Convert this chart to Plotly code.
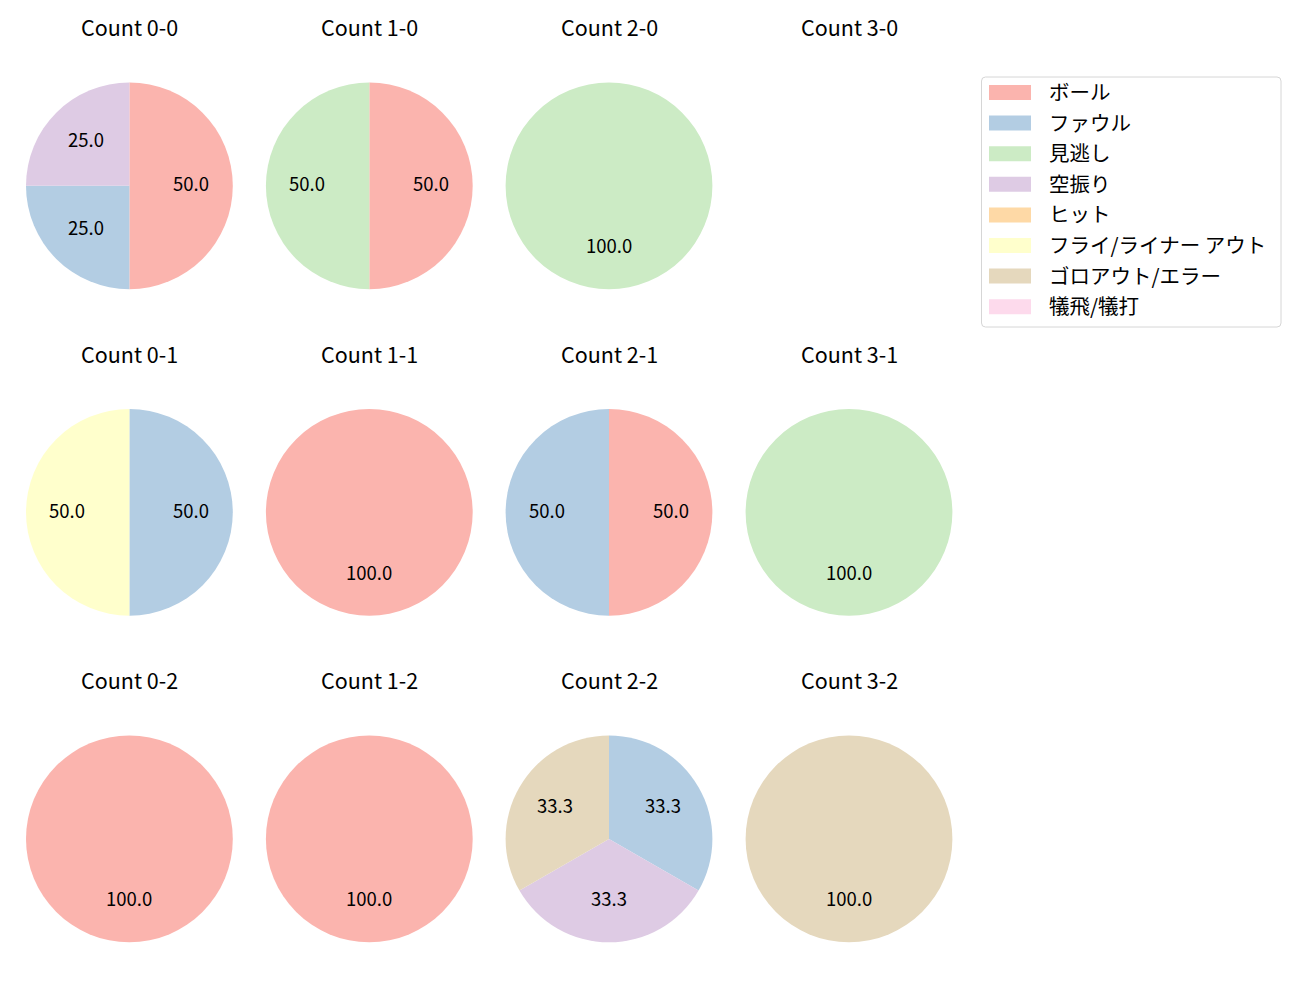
import math
import plotly.graph_objects as go

W, H = 1300, 1000

categories = ["ボール", "ファウル", "見逃し", "空振り", "ヒット",
              "フライ/ライナー アウト", "ゴロアウト/エラー", "犠飛/犠打"]
colors = ["#fbb4ae", "#b3cde3", "#ccebc5", "#decbe4", "#fed9a6",
          "#ffffcc", "#e5d8bd", "#fddaec"]

# counts per category (order as in categories)
count_0_0 = [2, 1, 0, 1, 0, 0, 0, 0]
count_1_0 = [1, 0, 1, 0, 0, 0, 0, 0]
count_2_0 = [0, 0, 1, 0, 0, 0, 0, 0]
count_3_0 = [0, 0, 0, 0, 0, 0, 0, 0]
count_0_1 = [0, 1, 0, 0, 0, 1, 0, 0]
count_1_1 = [1, 0, 0, 0, 0, 0, 0, 0]
count_2_1 = [1, 1, 0, 0, 0, 0, 0, 0]
count_3_1 = [0, 0, 1, 0, 0, 0, 0, 0]
count_0_2 = [1, 0, 0, 0, 0, 0, 0, 0]
count_1_2 = [1, 0, 0, 0, 0, 0, 0, 0]
count_2_2 = [0, 1, 0, 1, 0, 0, 1, 0]
count_3_2 = [0, 0, 0, 0, 0, 0, 1, 0]

panels = [
    ("Count 0-0", count_0_0), ("Count 1-0", count_1_0), ("Count 2-0", count_2_0), ("Count 3-0", count_3_0),
    ("Count 0-1", count_0_1), ("Count 1-1", count_1_1), ("Count 2-1", count_2_1), ("Count 3-1", count_3_1),
    ("Count 0-2", count_0_2), ("Count 1-2", count_1_2), ("Count 2-2", count_2_2), ("Count 3-2", count_3_2),
]

FONT = "Noto Sans CJK JP"
col_cx = [129.4, 369.3, 609.0, 849.0]
row_cy = [185.8, 512.3, 838.9]
R = 103.4


def px(x):
    return x / W


def py(y):
    return 1 - y / H


fig = go.Figure()
annotations = []
shapes = []

for i, (title, vals) in enumerate(panels):
    r, c = divmod(i, 4)
    cx, cy = col_cx[c], row_cy[r]
    annotations.append(dict(x=px(cx), y=py(cy - 159.0), xref="paper", yref="paper",
                            text=title, showarrow=False, xanchor="center", yanchor="middle",
                            font=dict(family=FONT, size=21.5, color="black")))
    total = sum(vals)
    if total == 0:
        continue
    fig.add_trace(go.Pie(
        labels=categories, values=vals, sort=False, direction="clockwise", rotation=0,
        marker=dict(colors=colors, line=dict(width=0)),
        textinfo="none", hoverinfo="label+percent", showlegend=False,
        domain=dict(x=[px(cx - R), px(cx + R)], y=[py(cy + R), py(cy - R)]),
    ))
    cum = 0
    for v in vals:
        if v == 0:
            continue
        mid = 90 - 360 * (cum + v / 2) / total
        cum += v
        tx = cx + 0.6 * R * math.cos(math.radians(mid))
        ty = cy - 0.6 * R * math.sin(math.radians(mid)) - 2.5
        annotations.append(dict(x=px(tx), y=py(ty), xref="paper", yref="paper",
                                text=f"{100 * v / total:.1f}", showarrow=False,
                                xanchor="center", yanchor="middle",
                                font=dict(family=FONT, size=18.5, color="black")))

# legend box (rounded)
lx0, lx1, ly0, ly1, rr = 981.5, 1281.0, 77.0, 327.0, 4.0
path = (f"M {px(lx0 + rr)},{py(ly0)} L {px(lx1 - rr)},{py(ly0)} Q {px(lx1)},{py(ly0)} {px(lx1)},{py(ly0 + rr)} "
        f"L {px(lx1)},{py(ly1 - rr)} Q {px(lx1)},{py(ly1)} {px(lx1 - rr)},{py(ly1)} "
        f"L {px(lx0 + rr)},{py(ly1)} Q {px(lx0)},{py(ly1)} {px(lx0)},{py(ly1 - rr)} "
        f"L {px(lx0)},{py(ly0 + rr)} Q {px(lx0)},{py(ly0)} {px(lx0 + rr)},{py(ly0)} Z")
shapes.append(dict(type="path", path=path, xref="paper", yref="paper",
                   line=dict(color="#d6d6d6", width=1), fillcolor="rgba(255,255,255,0.8)"))
for k, (lab, col) in enumerate(zip(categories, colors)):
    yc = 92.5 + k * 30.6
    shapes.append(dict(type="rect", xref="paper", yref="paper",
                       x0=px(989), x1=px(1031), y0=py(yc + 7.5), y1=py(yc - 7.5),
                       fillcolor=col, line=dict(width=0)))
    annotations.append(dict(x=px(1047), y=py(yc - 1.5), xref="paper", yref="paper",
                            text=lab, showarrow=False, xanchor="left", yanchor="middle",
                            font=dict(family=FONT, size=20.5, color="black")))

fig.update_layout(
    width=W, height=H, margin=dict(l=0, r=0, t=0, b=0),
    paper_bgcolor="white", plot_bgcolor="white",
    annotations=annotations, shapes=shapes, showlegend=False,
)
fig.write_html("out.html")
